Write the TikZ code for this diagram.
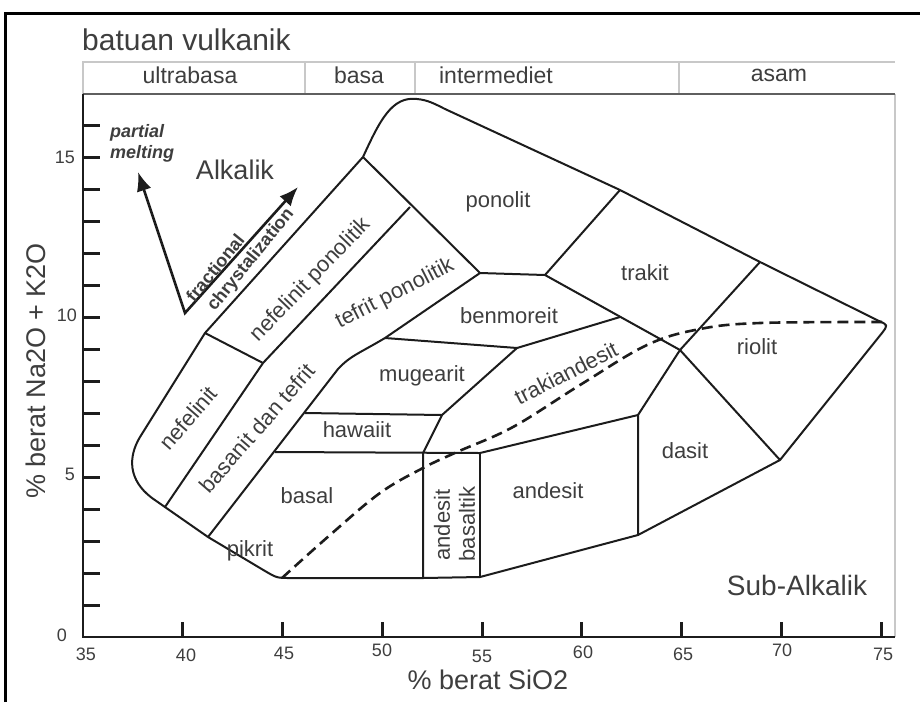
\documentclass[tikz,border=0pt]{standalone}
\usepackage{fontspec}
\setmainfont{Liberation Sans}
\usetikzlibrary{arrows.meta}
\definecolor{ink}{RGB}{28,28,28}
\definecolor{txt}{RGB}{62,62,62}
\definecolor{lgrey}{RGB}{200,200,200}
\definecolor{mgrey}{RGB}{95,95,95}
\newcommand\fsz[1]{\fontsize{#1}{#1}\selectfont}
\begin{document}
\begin{tikzpicture}[x=1pt,y=-1pt,
  every node/.style={inner sep=0pt,text=txt},
  lbl/.style={font=\fsz{22}},
  hdr/.style={font=\fsz{23}},
  big/.style={font=\fsz{28}},
  ticklbl/.style={font=\fsz{18}},
  axlbl/.style={font=\fsz{27}},
  arrlbl/.style={font=\fsz{18}\bfseries},
  bd/.style={draw=ink,line width=2pt,line join=round},
  dsh/.style={draw=ink,line width=2.6pt,dash pattern=on 11pt off 6pt},
  tickmark/.style={draw=ink,line width=3pt},
  arr/.style={draw=ink,line width=2.6pt,{Latex[length=19pt,width=15pt]}-{Latex[length=19pt,width=15pt]}}
]
\useasboundingbox (0,0) rectangle (920,702);
% outer frame
\draw[black,line width=3pt] (5,702) -- (5,13) -- (920,13);
% header
\node[font=\fsz{30},anchor=west] (title) at (82,40) {batuan vulkanik};
\draw[lgrey,line width=1.5pt] (83,94) -- (83,62) -- (895,62);
\draw[lgrey,line width=1.5pt] (305,62) -- (305,94) (415,62) -- (415,94) (679,62) -- (679,94);
\node[hdr] (ultra) at (190,75) {ultrabasa};
\node[hdr] (basa) at (359,75) {basa};
\node[hdr] (inter) at (496,75) {intermediet};
\node[hdr] (asam) at (779,75) {asam};
% plot box
\draw[lgrey,line width=1.5pt] (895,94) -- (895,637);
\draw[mgrey,line width=2.5pt] (83,94) -- (895,94);
\draw[ink,line width=2.5pt] (83,94) -- (83,637) -- (895,637);
\foreach \n in {1,...,16} \draw[tickmark] (83,{637-32*\n}) -- ++(17,0);
\foreach \s in {40,45,...,75} \draw[tickmark] ({83+19.95*(\s-35)},637) -- ++(0,-15);
% tick labels
\node[ticklbl] (y0) at (62,635) {0};
\node[ticklbl] (y5) at (70,474) {5};
\node[ticklbl] (y10) at (67,315) {10};
\node[ticklbl] (y15) at (65,157) {15};
\node[ticklbl] (x35) at (86,654) {35};
\node[ticklbl] (x40) at (186,655) {40};
\node[ticklbl] (x45) at (284,653) {45};
\node[ticklbl] (x50) at (382,650) {50};
\node[ticklbl] (x55) at (482,656) {55};
\node[ticklbl] (x60) at (583,652) {60};
\node[ticklbl] (x65) at (683,654) {65};
\node[ticklbl] (x70) at (782,650) {70};
\node[ticklbl] (x75) at (883,654) {75};
\node[axlbl] (xlab) at (488,680) {\% berat SiO2};
\node[axlbl,rotate=90] (ylab) at (36,371) {\% berat Na2O + K2O};
% outer boundary
\draw[bd] (423,578) -- (480,577) -- (638,535) -- (780,460) -- (882,333)
  .. controls (888,325) .. (879,321) -- (760,262) -- (620,190) -- (445,109)
  .. controls (435,104) and (428,100) .. (417,99)
  .. controls (392,96) and (380,120) .. (363,157) -- (205,333) -- (140,437)
  .. controls (128,457) and (128,480) .. (152,498) -- (208,537) -- (265,571)
  .. controls (277,578) .. (291,578) -- cycle;
% interior boundaries
\draw[bd] (205,333) -- (263,363);
\draw[bd] (410,207) -- (263,363) -- (165,507);
\draw[bd] (363,157) -- (480,273) -- (545,275) -- (620,190);
\draw[bd] (545,275) -- (680,350) -- (780,460);
\draw[bd] (760,262) -- (680,350) -- (638,415) -- (638,535);
\draw[bd] (480,273) -- (385,338) .. controls (358,354) and (350,356) .. (338,369) -- (208,537);
\draw[bd] (385,338) -- (517,348) -- (620,317);
\draw[bd] (517,348) -- (442,415) -- (423,453) -- (423,578);
\draw[bd] (305,413) -- (442,415);
\draw[bd] (275,452) -- (480,453) -- (638,415);
\draw[bd] (480,453) -- (480,577);
% dashed alkaline / subalkaline divide
\draw[dsh] plot[smooth,tension=0.6] coordinates {(282,578) (330,535) (380,493) (423,468) (457,452) (513,427) (580,385) (647,345) (700,329) (760,323) (882,322)};
% arrows
\coordinate (vtx) at (185,313);
\coordinate (pmtip) at (138,172);
\coordinate (fctip) at (298,187);
\draw[arr,line join=miter] (pmtip) -- (vtx) -- (fctip);
\node[font=\fsz{18}\bfseries\itshape,anchor=west] (partial) at (110,133) {partial};
\node[font=\fsz{18}\bfseries\itshape,anchor=west] (melting) at (110,154) {melting};
\node[arrlbl,rotate=51] (frac) at (215,268) {fractional};
\node[arrlbl,rotate=51] (chrys) at (251,260) {chrystalization};
\node[font=\fsz{27}] (alk) at (235,170) {Alkalik};
\node[big] (subalk) at (797,585) {Sub-Alkalik};
% rock names
\node[lbl] (ponolit) at (498,202) {ponolit};
\node[lbl] (trakit) at (645,273) {trakit};
\node[lbl] (riolit) at (757,347) {riolit};
\node[lbl] (benmoreit) at (509,316) {benmoreit};
\node[lbl] (mugearit) at (422,376) {mugearit};
\node[lbl] (hawaiit) at (357,430) {hawaiit};
\node[lbl] (basal) at (307,496) {basal};
\node[lbl] (pikrit) at (250,551) {pikrit};
\node[lbl] (andesit) at (548,491) {andesit};
\node[lbl] (dasit) at (685,451) {dasit};
\node[lbl,rotate=90] (andb1) at (442,525) {andesit};
\node[lbl,rotate=90] (andb2) at (467,524) {basaltik};
\node[lbl,rotate=27] (trakiand) at (566,373) {trakiandesit};
\node[lbl,rotate=49] (nefelinit) at (188,418) {nefelinit};
\node[lbl,rotate=49] (basanit) at (257,428) {basanit dan tefrit};
\node[lbl,rotate=46] (nefpon) at (311,280) {nefelinit ponolitik};
\node[lbl,rotate=27] (tefpon) at (395,294) {tefrit ponolitik};
\end{tikzpicture}
\end{document}
